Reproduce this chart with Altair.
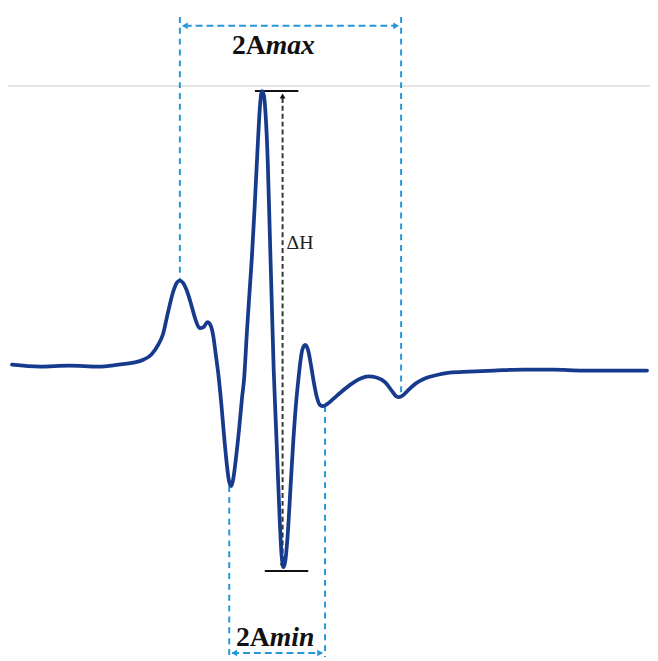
import altair as alt
import pandas as pd

# Curve (field position in arbitrary units, signal amplitude in arbitrary units)
field = [12, 40, 70, 100, 120, 135, 145, 153, 160, 165, 170, 175, 179, 182, 185, 189, 194, 198,
         202, 206, 210, 213, 216, 218, 221, 224, 227, 230, 232, 234, 236, 239, 242, 245, 247,
         250, 253, 255, 258, 261, 263, 265, 267, 269, 271, 273, 275, 277, 279, 281, 283, 285,
         287, 289, 291, 294, 297, 300, 302, 304, 306, 309, 312, 315, 318, 321, 324, 327, 331,
         337, 345, 355, 365, 373, 381, 390, 397, 401, 404, 408, 414, 421, 430, 440, 455, 475,
         500, 530, 560, 590, 620, 655]
signal = [2, 0, 1, 0, 2, 4, 7, 12, 22, 33, 55, 75, 85, 87, 85, 77, 61, 47,
          39, 40, 45, 42, 30, 15, -8, -38, -73, -103, -117, -121, -114, -91, -63, -31, -13,
          37, 82, 112, 167, 227, 262, 279, 275, 252, 207, 137, 67, -3, -53, -103, -153, -191,
          -203, -195, -173, -123, -73, -33, -13, 5, 17, 22, 16, 0, -18, -32, -39, -40, -38,
          -33, -26, -18, -12, -10, -11, -16, -25, -30, -31, -29, -23, -17, -12, -9, -6, -5,
          -4, -3, -3, -4, -4, -4]

XD = [8, 658]
YD = [-294, 359]
W, H = 650, 653

xs = alt.Scale(domain=XD, nice=False, zero=False)
ys = alt.Scale(domain=YD, nice=False, zero=False)

BLUE_D = "#2596d9"
CURVE = "#163b8c"
SERIF = "Liberation Serif"

def X(f="x"):
    return alt.X(f"{f}:Q", scale=xs, axis=None)

def Y(f="y"):
    return alt.Y(f"{f}:Q", scale=ys, axis=None)

curve_df = pd.DataFrame({"x": field, "y": signal})
curve = alt.Chart(curve_df).mark_line(color=CURVE, strokeWidth=3.8, interpolate="monotone",
                                      strokeCap="round", strokeJoin="round").encode(x=X(), y=Y())

# gray horizontal line
gray = alt.Chart(pd.DataFrame({"x": [8], "x2": [658], "y": [284]})).mark_rule(
    color="#dadada", strokeWidth=1.5).encode(x=X(), x2="x2:Q", y=Y())

# blue dashed vertical guides
bv_df = pd.DataFrame({"x": [182, 406, 232, 329], "y": [354, 354, -121, -40],
                      "y2": [87, -31, -294, -294]})
bv = alt.Chart(bv_df).mark_rule(color=BLUE_D, strokeWidth=2, strokeDash=[6, 5]).encode(
    x=X(), y=Y(), y2="y2:Q")

# blue dashed horizontal arrows
bh_df = pd.DataFrame({"x": [187, 235], "x2": [401, 326], "y": [345, -290]})
bh = alt.Chart(bh_df).mark_rule(color=BLUE_D, strokeWidth=2, strokeDash=[7, 4]).encode(
    x=X(), x2="x2:Q", y=Y())

tri_l = alt.Chart(pd.DataFrame({"x": [187, 237], "y": [345, -290]})).mark_point(
    shape="triangle-left", filled=True, color=BLUE_D, size=45, opacity=1).encode(x=X(), y=Y())
tri_r = alt.Chart(pd.DataFrame({"x": [401, 324], "y": [345, -290]})).mark_point(
    shape="triangle-right", filled=True, color=BLUE_D, size=45, opacity=1).encode(x=X(), y=Y())

# black bars and Delta H arrow
bars = alt.Chart(pd.DataFrame({"x": [258, 268], "x2": [302, 312], "y": [279, -207]})).mark_rule(
    color="#111111", strokeWidth=2).encode(x=X(), x2="x2:Q", y=Y())
dh = alt.Chart(pd.DataFrame({"x": [286], "y": [272], "y2": [-200]})).mark_rule(
    color="#333333", strokeWidth=2, strokeDash=[5, 3]).encode(x=X(), y=Y(), y2="y2:Q")
tri_u = alt.Chart(pd.DataFrame({"x": [286], "y": [274]})).mark_point(
    shape="triangle-up", filled=True, color="#111111", size=35, opacity=1).encode(x=X(), y=Y())
tri_d = alt.Chart(pd.DataFrame({"x": [286], "y": [-202]})).mark_point(
    shape="triangle-down", filled=True, color="#111111", size=35, opacity=1).encode(x=X(), y=Y())

# texts
t2a = alt.Chart(pd.DataFrame({"x": [269, 273], "y": [317, -283], "t": ["2A", "2A"]})).mark_text(
    font=SERIF, fontSize=28, fontWeight="bold", align="right", baseline="alphabetic",
    color="#111111").encode(x=X(), y=Y(), text="t:N")
tsub = alt.Chart(pd.DataFrame({"x": [269, 273], "y": [317, -283], "t": ["max", "min"]})).mark_text(
    font=SERIF, fontSize=28, fontWeight="bold", fontStyle="italic", align="left",
    baseline="alphabetic", color="#111111").encode(x=X(), y=Y(), text="t:N")
tdh = alt.Chart(pd.DataFrame({"x": [290], "y": [119], "t": ["ΔH"]})).mark_text(
    font=SERIF, fontSize=20, align="left", baseline="alphabetic", color="#222222").encode(
    x=X(), y=Y(), text="t:N")

chart = alt.layer(gray, bv, bh, tri_l, tri_r, dh, bars, tri_u, tri_d, curve, t2a, tsub, tdh).properties(
    width=W, height=H, padding=0, autosize=alt.AutoSizeParams(type="none"),
    background="white").configure_view(stroke=None)

chart.save("out.html", embed_options={"renderer": "svg", "actions": False})
